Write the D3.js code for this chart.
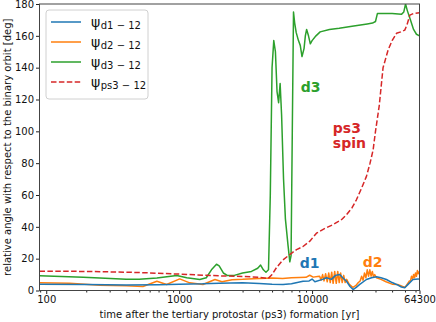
<!DOCTYPE html>
<html>
<head>
<meta charset="utf-8">
<script src="https://cdn.jsdelivr.net/npm/d3@7"></script>
<style>
  body { margin: 0; background: #fff; }
  svg { display: block; font-family: "DejaVu Sans", sans-serif; }
</style>
</head>
<body>
<div id="chart"></div>
<script>
// data: [time (yr), angle (deg)]
const d1Data = [[89,3.9],[200,3.8],[400,3.4],[700,3.6],[1000,4.0],[1500,4.2],[2000,4.6],[3000,4.8],[4000,4.4],[5000,3.9],[6050,3.8],[7000,4.3],[8550,5.8],[9500,6.0],[10000,7.2],[10500,5.5],[12000,7],[12820,8],[14000,7],[15000,9.5],[16140,10],[17000,8],[18150,5.8],[19300,2.5],[20340,0.6],[21500,2],[22840,3.8],[25650,6.9],[28000,8],[30500,8.6],[33000,8],[36250,6.9],[40000,5],[43200,3.8],[47000,2.2],[49800,1.7],[53000,4],[57400,6.9],[62800,7.3],[64300,7]];

const d2Data = [[89,4.8],[150,4.5],[253,3.3],[400,3],[534,2.5],[680,5.8],[805,3.8],[1010,7.3],[1200,4.8],[1510,3.8],[1860,6.9],[2100,5.5],[2500,6.8],[3000,7],[4000,7.6],[5000,7.8],[6000,7.6],[7000,8],[8000,8.2],[9000,8.3],[9600,9.6],[10200,8.4],[11000,8.8],
  [11400,9],[11700,6.5],[12000,10],[12300,6],[12650,10.5],[13000,5.5],[13350,11],[13700,5],[14050,11.5],[14400,4.5],[14800,12],[15200,4.5],[15600,12],[16000,5],[16400,11],[16850,5],[17300,9.5],[17750,5],[18200,7],[19000,4],[20300,1.9],[21300,3],[22300,5],[23000,6],[23600,9],[24200,6.5],[24800,11],[25400,8],[26000,13],[26600,9],[27200,13],[27800,9],[28400,12],[29000,8.5],[29600,10],[30500,8],[33000,7],[36000,5.5],[40000,4],[44000,3.8],[48000,2.5],[50000,2],[52000,4],[54000,6],[55000,6],[56000,9],[57000,7],[58000,10],[59000,8],[60000,11],[61000,9],[62000,12.5],[63000,10.5],[64300,12]];

const d3Data = [[89,9.2],[190,8.4],[253,7.9],[400,7.0],[500,7.0],[680,7.9],[960,9.4],[1140,8.0],[1300,7.4],[1430,6.9],[1600,8],[1750,13],[1910,16.5],[2000,15.5],[2150,11],[2300,9.5],[2600,9.5],[3000,11],[3500,12],[3900,14],[4100,16],[4300,13],[4500,11.5],[4700,13],[4850,60],[5000,140],[5150,157],[5300,150],[5450,125],[5600,118],[5750,130],[5900,110],[6100,70],[6300,45],[6600,28],[6800,18],[6950,22],[7100,100],[7250,175],[7400,168],[7600,162],[7900,157],[8150,154],[8400,147],[8700,152],[8900,160],[9100,164],[9400,160],[9700,155],[10000,157],[10700,160],[11500,162.5],[13500,164],[16000,164.7],[20000,166],[26000,167.5],[28500,168],[30000,169],[31000,174],[33000,174],[40000,174],[47000,173.5],[49000,175],[50500,180],[52000,176],[55000,170],[58000,164],[61000,161],[64300,160]];

const ps3Data = [[89,12.1],[200,12],[500,11.3],[1000,10.3],[2000,9.2],[3000,8.8],[4000,8.3],[4670,7.5],[5000,10],[5400,14.4],[6000,19],[6800,22.6],[7640,25.7],[8500,27.5],[9620,31],[10790,36],[12500,39],[14390,41.4],[16630,44.5],[18150,47.6],[20000,52],[21560,57],[23500,64],[25650,71.7],[27300,80],[28800,88.4],[30000,100],[32000,116],[34200,140],[37300,151],[40000,157],[43200,161.6],[46500,162.5],[49800,163.6],[51700,166.8],[54400,173],[58000,174],[64300,174.5]];

const xTicks = [100, 1000, 10000, 64300];
const yTicks = [0, 20, 40, 60, 80, 100, 120, 140, 160, 180];

const seriesNames = ["d1 − 12", "d2 − 12", "d3 − 12", "ps3 − 12"];
const seriesColors = ["#1f77b4", "#ff7f0e", "#2ca02c", "#d62728"];

const notes = [
  {lines: ["d3"], t: 8230, v: 124.7, color: "#2ca02c"},
  {lines: ["ps3", "spin"], t: 14320, v: 99.1, color: "#d62728"},
  {lines: ["d1"], t: 8090, v: 14.1, color: "#1f77b4"},
  {lines: ["d2"], t: 24040, v: 14.8, color: "#ff7f0e"}
];

const width = 436, height = 322;
const plot = {left: 39.5, right: 419.5, top: 4, bottom: 290.5};

const svg = d3.select("#chart").append("svg")
  .attr("width", width)
  .attr("height", height);

const x = d3.scaleLog().domain([89, 64300]).range([plot.left, plot.right]);
const y = d3.scaleLinear().domain([0, 180]).range([plot.bottom, plot.top]);

svg.append("clipPath").attr("id", "clip")
  .append("rect")
  .attr("x", plot.left).attr("y", plot.top)
  .attr("width", plot.right - plot.left).attr("height", plot.bottom - plot.top);

const line = d3.line().x(d => x(d[0])).y(d => y(d[1]));

// orange under blue, as in the figure
const drawOrder = [[d2Data, 1], [d1Data, 0], [d3Data, 2], [ps3Data, 3]];
const g = svg.append("g").attr("clip-path", "url(#clip)");
drawOrder.forEach(([data, i]) => {
  g.append("path")
    .datum(data)
    .attr("fill", "none")
    .attr("stroke", seriesColors[i])
    .attr("stroke-width", 1.5)
    .attr("stroke-linejoin", "round")
    .attr("stroke-dasharray", i === 3 ? "5.5,2.4" : null)
    .attr("d", line);
});

// axes
const minorTicks = x.ticks().filter(t => !xTicks.includes(t) && t > 89);

svg.append("g")
  .attr("transform", `translate(0,${plot.bottom})`)
  .call(d3.axisBottom(x).tickValues(minorTicks).tickFormat("").tickSize(2).tickSizeOuter(0))
  .call(a => a.select(".domain").remove())
  .call(a => a.selectAll(".tick line").attr("stroke", "#222"));

svg.append("g")
  .attr("transform", `translate(0,${plot.bottom})`)
  .call(d3.axisBottom(x).tickValues(xTicks).tickFormat(d3.format("d")).tickSize(3.5).tickPadding(2).tickSizeOuter(0))
  .call(a => a.select(".domain").remove())
  .call(a => a.selectAll(".tick line").attr("stroke", "#222"))
  .call(a => a.selectAll("text").attr("font-size", 10).attr("fill", "#111").attr("font-family", "DejaVu Sans"));

svg.append("g")
  .attr("transform", `translate(${plot.left},0)`)
  .call(d3.axisLeft(y).tickValues(yTicks).tickSize(3.5).tickPadding(2).tickSizeOuter(0))
  .call(a => a.select(".domain").remove())
  .call(a => a.selectAll(".tick line").attr("stroke", "#222"))
  .call(a => a.selectAll("text").attr("font-size", 10).attr("fill", "#111").attr("font-family", "DejaVu Sans"));

svg.append("rect")
  .attr("x", plot.left).attr("y", plot.top)
  .attr("width", plot.right - plot.left).attr("height", plot.bottom - plot.top)
  .attr("fill", "none")
  .attr("stroke", "#444")
  .attr("stroke-width", 1);

// axis titles
svg.append("text")
  .attr("x", (plot.left + plot.right) / 2)
  .attr("y", 318)
  .attr("text-anchor", "middle")
  .attr("font-size", 10)
  .attr("fill", "#111")
  .text("time after the tertiary protostar (ps3) formation [yr]");

svg.append("text")
  .attr("transform", `translate(11,${(plot.top + plot.bottom) / 2}) rotate(-90)`)
  .attr("text-anchor", "middle")
  .attr("font-size", 10)
  .attr("fill", "#111")
  .text("relative angle with respect to the binary orbit [deg]");

// annotations
notes.forEach(n => {
  const t = svg.append("text")
    .attr("x", x(n.t))
    .attr("y", y(n.v))
    .attr("font-size", 14)
    .attr("font-weight", "bold")
    .attr("fill", n.color);
  n.lines.forEach((s, k) => {
    t.append("tspan").attr("x", x(n.t)).attr("dy", k === 0 ? 0 : 15.5).text(s);
  });
});

// legend
const legend = svg.append("g");
legend.append("rect")
  .attr("x", 46).attr("y", 10)
  .attr("width", 102).attr("height", 89)
  .attr("rx", 3)
  .attr("fill", "#fff").attr("fill-opacity", 0.8)
  .attr("stroke", "#d0d0d0");

seriesNames.forEach((name, i) => {
  const cy = 22 + i * 20;
  legend.append("line")
    .attr("x1", 51).attr("x2", 81)
    .attr("y1", cy).attr("y2", cy)
    .attr("stroke", seriesColors[i])
    .attr("stroke-width", 1.5)
    .attr("stroke-dasharray", i === 3 ? "5.5,2.4" : null);
  const txt = legend.append("text")
    .attr("x", 91).attr("y", cy + 4.5)
    .attr("fill", "#111");
  txt.append("tspan").attr("font-size", 14).text("ψ");
  txt.append("tspan").attr("font-size", 10).attr("dy", 2.5).attr("dx", 0.5).text(name);
});
</script>
</body>
</html>
